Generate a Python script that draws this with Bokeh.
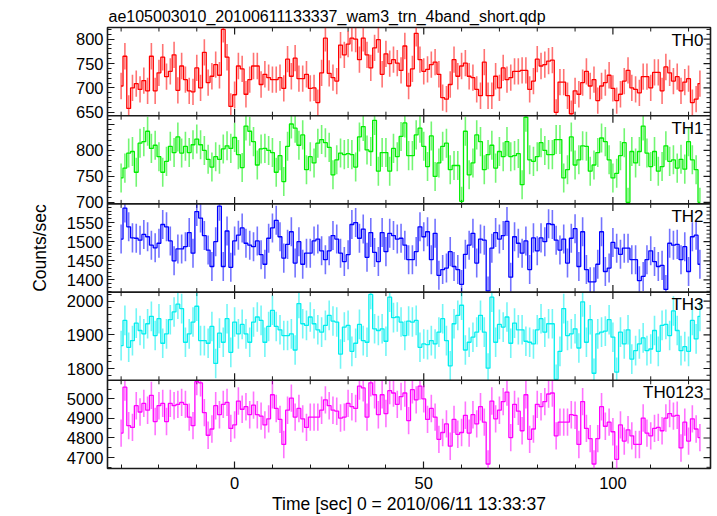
import math
from bokeh.plotting import figure
from bokeh.models import Range1d, Span, LinearAxis, FixedTicker
from bokeh.embed import file_html
from bokeh.resources import INLINE
from bokeh.core.properties import value

TITLE = "ae105003010_20100611133337_wam3_trn_4band_short.qdp"
X_LABEL = "Time [sec] 0 = 2010/06/11 13:33:37"
Y_LABEL = "Counts/sec"

# bin centres (1 s bins)
TIME = list(range(-30, 124))

TH0 = [704, 765, 658, 700, 709, 697, 715, 694, 765, 694,
       731, 763, 723, 734, 768, 695, 745, 717, 694, 692,
       741, 700, 773, 711, 724, 748, 726, 820, 763, 662,
       686, 745, 739, 687, 717, 745, 745, 707, 728, 721,
       717, 717, 721, 699, 759, 724, 761, 719, 719, 728,
       699, 700, 670, 731, 802, 730, 721, 714, 788, 768,
       790, 802, 800, 758, 802, 768, 741, 782, 799, 728,
       770, 750, 758, 751, 736, 786, 704, 739, 812, 758,
       734, 738, 748, 753, 728, 680, 677, 707, 758, 724,
       745, 751, 724, 721, 697, 684, 753, 684, 684, 724,
       700, 741, 717, 721, 734, 734, 736, 736, 697, 714,
       759, 745, 748, 755, 757, 650, 712, 712, 684, 647,
       694, 687, 711, 734, 704, 717, 674, 704, 711, 726,
       699, 674, 687, 714, 736, 700, 697, 690, 723, 723,
       700, 732, 732, 694, 743, 731, 714, 723, 694, 712,
       719, 670, 677, 709]

TH1 = [747, 766, 795, 798, 758, 814, 817, 837, 804, 810,
       788, 758, 779, 808, 796, 826, 795, 808, 796, 811,
       822, 811, 800, 783, 768, 788, 783, 803, 809, 804,
       825, 792, 767, 847, 837, 817, 772, 803, 804, 800,
       796, 758, 790, 740, 808, 851, 843, 810, 830, 763,
       788, 776, 814, 821, 815, 806, 753, 782, 795, 792,
       794, 792, 768, 826, 846, 801, 798, 858, 760, 796,
       796, 760, 804, 788, 827, 853, 790, 790, 830, 843,
       808, 769, 828, 750, 776, 808, 814, 763, 771, 771,
       702, 837, 753, 776, 830, 817, 763, 792, 810, 766,
       798, 788, 817, 788, 790, 794, 734, 864, 782, 779,
       788, 815, 800, 792, 792, 821, 821, 747, 763, 826,
       772, 782, 809, 808, 760, 772, 796, 824, 817, 782,
       747, 756, 790, 815, 700, 798, 776, 798, 847, 795,
       769, 798, 760, 769, 809, 779, 782, 766, 783, 764,
       817, 782, 763, 700]

TH2 = [1507, 1588, 1539, 1510, 1509, 1504, 1519, 1513, 1491, 1484,
       1496, 1545, 1539, 1502, 1450, 1481, 1481, 1487, 1524, 1470,
       1579, 1562, 1516, 1478, 1435, 1500, 1593, 1435, 1528, 1433,
       1502, 1517, 1536, 1496, 1491, 1487, 1502, 1466, 1441, 1509,
       1536, 1556, 1513, 1457, 1493, 1526, 1444, 1500, 1441, 1470,
       1470, 1502, 1507, 1476, 1453, 1476, 1516, 1507, 1470, 1448,
       1466, 1545, 1550, 1509, 1533, 1459, 1524, 1472, 1448, 1524,
       1474, 1522, 1516, 1507, 1509, 1491, 1453, 1453, 1474, 1539,
       1513, 1526, 1453, 1522, 1412, 1427, 1431, 1474, 1435, 1427,
       1388, 1467, 1491, 1522, 1444, 1507, 1504, 1371, 1483, 1524,
       1507, 1516, 1553, 1407, 1513, 1496, 1470, 1502, 1427, 1510,
       1476, 1510, 1500, 1547, 1545, 1504, 1478, 1507, 1444, 1509,
       1534, 1435, 1526, 1427, 1395, 1395, 1441, 1526, 1422, 1431,
       1498, 1483, 1467, 1483, 1483, 1453, 1453, 1398, 1409, 1453,
       1476, 1448, 1435, 1438, 1375, 1496, 1491, 1493, 1453, 1487,
       1422, 1513, 1517, 1441]

TH3 = [1868, 1943, 1863, 1883, 1935, 1913, 1903, 1933, 1955, 1898,
       1948, 1875, 1903, 1945, 1968, 1991, 1978, 1878, 1903, 1938,
       1985, 1883, 1883, 1875, 1925, 1815, 1905, 1878, 1948, 1848,
       1938, 1903, 1931, 1903, 1878, 1938, 1953, 1943, 1878, 1925,
       1973, 1925, 1915, 1898, 1898, 1903, 1855, 1993, 1933, 1928,
       1953, 1933, 1915, 1908, 1928, 1958, 1941, 1938, 1843, 1923,
       1928, 1851, 1875, 1931, 1883, 1878, 2020, 1918, 1913, 1918,
       1881, 2012, 1951, 1953, 1938, 1898, 1941, 1938, 1943, 1863,
       1873, 1871, 1883, 1873, 1908, 1948, 1883, 1808, 1933, 1958,
       1988, 1855, 1878, 1893, 1908, 1958, 1908, 1801, 2012, 1878,
       1931, 1923, 1953, 1875, 1935, 1915, 1915, 1881, 1878, 1873,
       1915, 1948, 1908, 1933, 1933, 1768, 1851, 1978, 1898, 1903,
       1918, 1861, 1998, 1878, 1945, 1786, 1903, 1908, 1911, 1945,
       1893, 1789, 1908, 1873, 1915, 1828, 1853, 1873, 1891, 1853,
       1858, 1913, 1851, 1928, 1931, 1898, 1971, 1913, 1853, 1865,
       1851, 1943, 1888, 1955]

TH0123 = [4825, 5060, 4863, 4854, 4965, 4933, 4977, 4942, 5018, 4884,
          4965, 4977, 4884, 4977, 4965, 4972, 4982, 4972, 4907, 4863,
          5088, 5082, 4930, 4814, 4846, 4965, 4919, 4972, 4982, 4849,
          4867, 4989, 4947, 4960, 4919, 4968, 4919, 4912, 4867, 4898,
          5021, 4951, 4895, 4767, 4942, 5004, 4907, 4951, 4898, 4854,
          4907, 4907, 4907, 4942, 4995, 4965, 4942, 4937, 4902, 4907,
          4977, 4960, 4951, 5065, 5056, 4907, 5082, 5021, 4919, 5021,
          4925, 5042, 5030, 4972, 5012, 5030, 4889, 5047, 4995, 5065,
          5000, 4895, 4951, 4907, 4793, 4828, 4872, 4758, 4895, 4819,
          4828, 4916, 4825, 4919, 4872, 4960, 4881, 4667, 4989, 4898,
          4942, 4986, 5035, 4802, 4972, 4937, 4837, 5021, 4793, 4846,
          4972, 4960, 4986, 5025, 5030, 4811, 4881, 4881, 4881, 4919,
          4916, 4767, 4986, 4849, 4797, 4667, 4797, 4960, 4860, 4881,
          4832, 4691, 4867, 4784, 4842, 4811, 4767, 4767, 4902, 4825,
          4811, 4849, 4854, 4837, 4902, 4925, 4912, 4916, 4749, 4881,
          4784, 4898, 4846, 4802]

# approximate 1-sigma errors per band
ERR_TH0 = 27
ERR_TH1 = 28
ERR_TH2 = 38
ERR_TH3 = 44
ERR_TH0123 = 70

NAMES = ["TH0", "TH1", "TH2", "TH3", "TH0123"]
X_TICKS = [0, 50, 100]

# ---------------- styling / layout -----------------
FONT = "Liberation Sans"
X_RANGE = (-33.6, 125.8)
AX_COLOR = "#1a1a1a"

panels = [
    # name, values, err, colour, y-range, labelled ticks, unlabelled major, minor step
    (NAMES[0], TH0, ERR_TH0, "#ff0000", (643, 824), [650, 700, 750, 800], [], 10),
    (NAMES[1], TH1, ERR_TH1, "#00ee00", (697, 867), [700, 750, 800], [850], 10),
    (NAMES[2], TH2, ERR_TH2, "#0000ff", (1368, 1599), [1400, 1450, 1500, 1550], [], 10),
    (NAMES[3], TH3, ERR_TH3, "#00eeee", (1765, 2027), [1800, 1900, 2000], [], 20),
    (NAMES[4], TH0123, ERR_TH0123, "#ff00ff", (4644, 5095), [4700, 4800, 4900, 5000], [], 50),
]
NP = len(panels)
x0, x1 = X_RANGE

p = figure(width=717, height=516,
           x_range=Range1d(x0, x1), y_range=Range1d(0, NP),
           x_axis_location=None, y_axis_location=None,
           output_backend="svg", toolbar_location=None,
           min_border_left=107, min_border_right=7,
           min_border_top=27, min_border_bottom=44,
           background_fill_color="white", border_fill_color="white")
p.outline_line_color = AX_COLOR
p.outline_line_width = 1.6
p.xgrid.visible = False
p.ygrid.visible = False

p.title.text = TITLE
p.title.text_font = FONT
p.title.text_font_size = "16px"
p.title.text_font_style = "normal"
p.title.text_color = "black"
p.title.align = "left"
p.title.offset = 1
p.title.standoff = 6

extra = {}
for k, (name, vals, err, color, yr, ylab, yunl, ystep) in enumerate(panels):
    a, b = yr
    span = b - a
    extra[name] = Range1d(a - (NP - 1 - k) * span, b + k * span)
p.extra_y_ranges = extra


def tick_rays(xs, ys, angle, length, width, rn=None):
    kw = {} if rn is None else {"y_range_name": rn}
    p.ray(x=xs, y=ys, length=length, length_units="screen", angle=angle,
          line_color=AX_COLOR, line_width=width, **kw)


def style_axis(ax):
    ax.major_tick_in = 7
    ax.major_tick_out = 0
    ax.minor_tick_in = 4
    ax.minor_tick_out = 0
    ax.axis_line_color = None
    ax.major_tick_line_color = AX_COLOR
    ax.minor_tick_line_color = AX_COLOR
    ax.major_tick_line_width = 1.2
    ax.minor_tick_line_width = 1.0
    ax.major_label_text_font = FONT
    ax.major_label_text_font_size = "16.5px"
    ax.major_label_text_color = "black"
    ax.axis_label_text_font = FONT
    ax.axis_label_text_font_size = "17.5px"
    ax.axis_label_text_font_style = "normal"
    ax.axis_label_text_color = "black"


# ---- bottom (time) axis ----
x_minor = [t for t in range(-30, 130, 10) if t not in X_TICKS]
bx = LinearAxis(ticker=FixedTicker(ticks=X_TICKS, minor_ticks=x_minor))
style_axis(bx)
bx.axis_label = X_LABEL
bx.major_label_standoff = 8
bx.axis_label_standoff = 2
p.add_layout(bx, "below")

# ---- left axis: each panel's ticks placed through the panel ranges ----
left_ticks, left_minor, overrides = [], [], {}
for k, (name, vals, err, color, yr, ylab, yunl, ystep) in enumerate(panels):
    a, b = yr
    base = NP - 1 - k
    for v in ylab:
        pos = round(base + (v - a) / (b - a), 9)
        left_ticks.append(pos)
        overrides[pos] = str(v)
    for v in range(int(a) // ystep * ystep, int(b) + 1, ystep):
        if a < v < b and v not in ylab and v not in yunl:
            left_minor.append(round(base + (v - a) / (b - a), 9))

ly = LinearAxis(ticker=FixedTicker(ticks=left_ticks, minor_ticks=left_minor))
style_axis(ly)
ly.major_label_overrides = overrides
ly.major_label_standoff = 4
ly.axis_label = Y_LABEL
ly.axis_label_standoff = 14
p.add_layout(ly, "left")

# panel separators
for k in range(1, NP):
    p.add_layout(Span(location=k, dimension="width", line_color=AX_COLOR,
                      line_width=1.6))

# x ticks on the inner panel edges and the top edge (inward)
for lvl in range(1, NP + 1):
    if lvl < NP:
        tick_rays(X_TICKS, [lvl] * len(X_TICKS), math.pi / 2, 7, 1.2)
        tick_rays(x_minor, [lvl] * len(x_minor), math.pi / 2, 4, 1.0)
    tick_rays(X_TICKS, [lvl] * len(X_TICKS), -math.pi / 2, 7, 1.2)
    tick_rays(x_minor, [lvl] * len(x_minor), -math.pi / 2, 4, 1.0)

for k, (name, vals, err, color, yr, ylab, yunl, ystep) in enumerate(panels):
    a, b = yr
    lo = [max(v - err, a) for v in vals]
    hi = [min(v + err, b) for v in vals]
    p.segment(x0=TIME, y0=lo, x1=TIME, y1=hi, line_color=color,
              line_width=1.6, line_alpha=0.55, y_range_name=name)
    p.step(x=TIME, y=vals, mode="center", line_color=color, line_width=1.3,
           y_range_name=name)

    majors = ylab + yunl
    yminor = [v for v in range(int(a) // ystep * ystep, int(b) + 1, ystep)
              if a < v < b and v not in majors]
    if yunl:
        tick_rays([x0] * len(yunl), yunl, 0, 7, 1.2, name)
    tick_rays([x1] * len(majors), majors, math.pi, 7, 1.2, name)
    tick_rays([x1] * len(yminor), yminor, math.pi, 4, 1.0, name)

    p.text(x=[x1], y=[b], text=[name], text_align="right",
           text_baseline="top", x_offset=-7, y_offset=3,
           text_font=value(FONT), text_font_size="17px", text_color="black",
           y_range_name=name)

open("out.html", "w").write(file_html(p, INLINE))
